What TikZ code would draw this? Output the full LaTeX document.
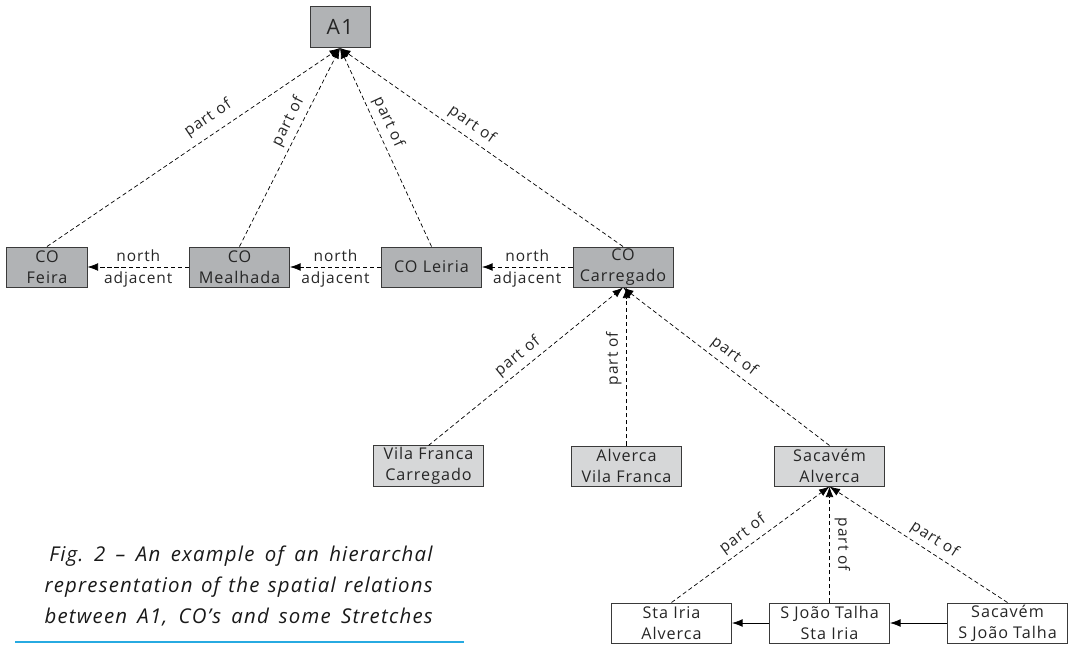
\documentclass[tikz,border=0pt]{standalone}
\usepackage{fontspec}
\setmainfont{Open Sans}[LetterSpace=6]
\usetikzlibrary{arrows.meta}
\definecolor{cogray}{HTML}{B1B3B5}
\definecolor{stgray}{HTML}{D6D7D8}
\definecolor{edgegray}{HTML}{3A3A3A}
\definecolor{capblue}{HTML}{27AAE1}
\begin{document}
\begin{tikzpicture}[x=0.025cm, y=-0.025cm, line width=0.5pt,
  box/.style={draw=edgegray, line width=0.7pt, minimum height=1cm, inner sep=1pt,
    align=center, font=\fontsize{11.5}{15}\selectfont, text=black!85},
  cobox/.style={box, fill=cogray, minimum width=2.5cm},
  stbox/.style={box, fill=stgray, minimum width=2.75cm},
  subbox/.style={box, fill=white, minimum width=3cm},
  partof/.style={densely dashed, -{Latex[length=7.5pt,width=5.5pt]}},
  lbl/.style={font=\fontsize{11}{12}\selectfont, text=black!85}]
  \useasboundingbox (0,0) rectangle (1069,644);
  % top of the hierarchy
  \node[box, fill=cogray, minimum width=1.5cm, minimum height=1.025cm,
        font=\fontsize{15}{18}\selectfont] (a1) at (340,27) {A1};
  % CO's
  \node[cobox, minimum width=2cm] (feira) at (47,267) {CO\\Feira};
  \node[cobox] (mealhada) at (239.5,267) {CO\\Mealhada};
  \node[cobox] (leiria) at (431.5,267) {CO Leiria};
  \node[cobox] (carregado) at (623,267) {CO\\Carregado};
  % stretches
  \node[stbox] (vilafranca) at (428.5,466) {Vila Franca\\Carregado};
  \node[stbox] (alverca) at (626.5,466) {Alverca\\Vila Franca};
  \node[stbox] (sacavem) at (829.5,466) {Sacavém\\Alverca};
  % sub-stretches
  \node[subbox] (staIria) at (671.5,623) {Sta Iria\\Alverca};
  \node[subbox] (sjoao) at (829.5,623) {S João Talha\\Sta Iria};
  \node[subbox] (sacavemSJ) at (1007.5,623) {Sacavém\\S João Talha};

  \draw[partof] (feira.north) -- (a1.south) node[lbl, pos=.58, sloped, above=2pt] {part of};
  \draw[partof] (mealhada.north) -- (a1.south) node[lbl, pos=.6, sloped, above] {part of};
  \draw[partof] (leiria.north) -- (a1.south) node[lbl, pos=.6, sloped, above] {part of};
  \draw[partof] (carregado.north) -- (a1.south) node[lbl, pos=.56, sloped, above] {part of};

  \draw[partof] (mealhada.west) -- (feira.east)
    node[lbl, midway, above] {north} node[lbl, midway, below] {adjacent};
  \draw[partof] (leiria.west) -- (mealhada.east)
    node[lbl, midway, above] {north} node[lbl, midway, below] {adjacent};
  \draw[partof] (carregado.west) -- (leiria.east)
    node[lbl, midway, above] {north} node[lbl, midway, below] {adjacent};

  \draw[partof] (vilafranca.north) -- (carregado.south) node[lbl, pos=.5, sloped, above] {part of};
  \draw[partof] (alverca.north) -- (alverca.north |- carregado.south)
    node[lbl, pos=.55, rotate=90, anchor=south] {part of};
  \draw[partof] (sacavem.north) -- (carregado.south) node[lbl, pos=.5, sloped, above] {part of};

  \draw[partof] (staIria.north) -- (sacavem.south) node[lbl, pos=.5, sloped, above] {part of};
  \draw[partof] (sjoao.north) -- (sacavem.south)
    node[lbl, pos=.5, rotate=-90, anchor=south] {part of};
  \draw[partof] (sacavemSJ.north) -- (sacavem.south) node[lbl, pos=.45, sloped, above] {part of};

  \draw[-{Latex[length=7.5pt,width=5.5pt]}] (sjoao.west) -- (staIria.east);
  \draw[-{Latex[length=7.5pt,width=5.5pt]}] (sacavemSJ.west) -- (sjoao.east);

  % caption
  \node[align=right, anchor=north east, inner sep=0pt, text=black!90,
        font=\itshape\fontsize{14.5}{22}\selectfont] (caption) at (433,546)
    {\makebox[9.58cm][s]{Fig.~2 -- An example of an hierarchal}\\
     \makebox[9.7cm][s]{representation of the spatial relations}\\
     \makebox[9.7cm][s]{between A1, CO's and some Stretches}};
  \draw[capblue, line width=2pt] (15,642) -- (464,642);
\end{tikzpicture}
\end{document}
